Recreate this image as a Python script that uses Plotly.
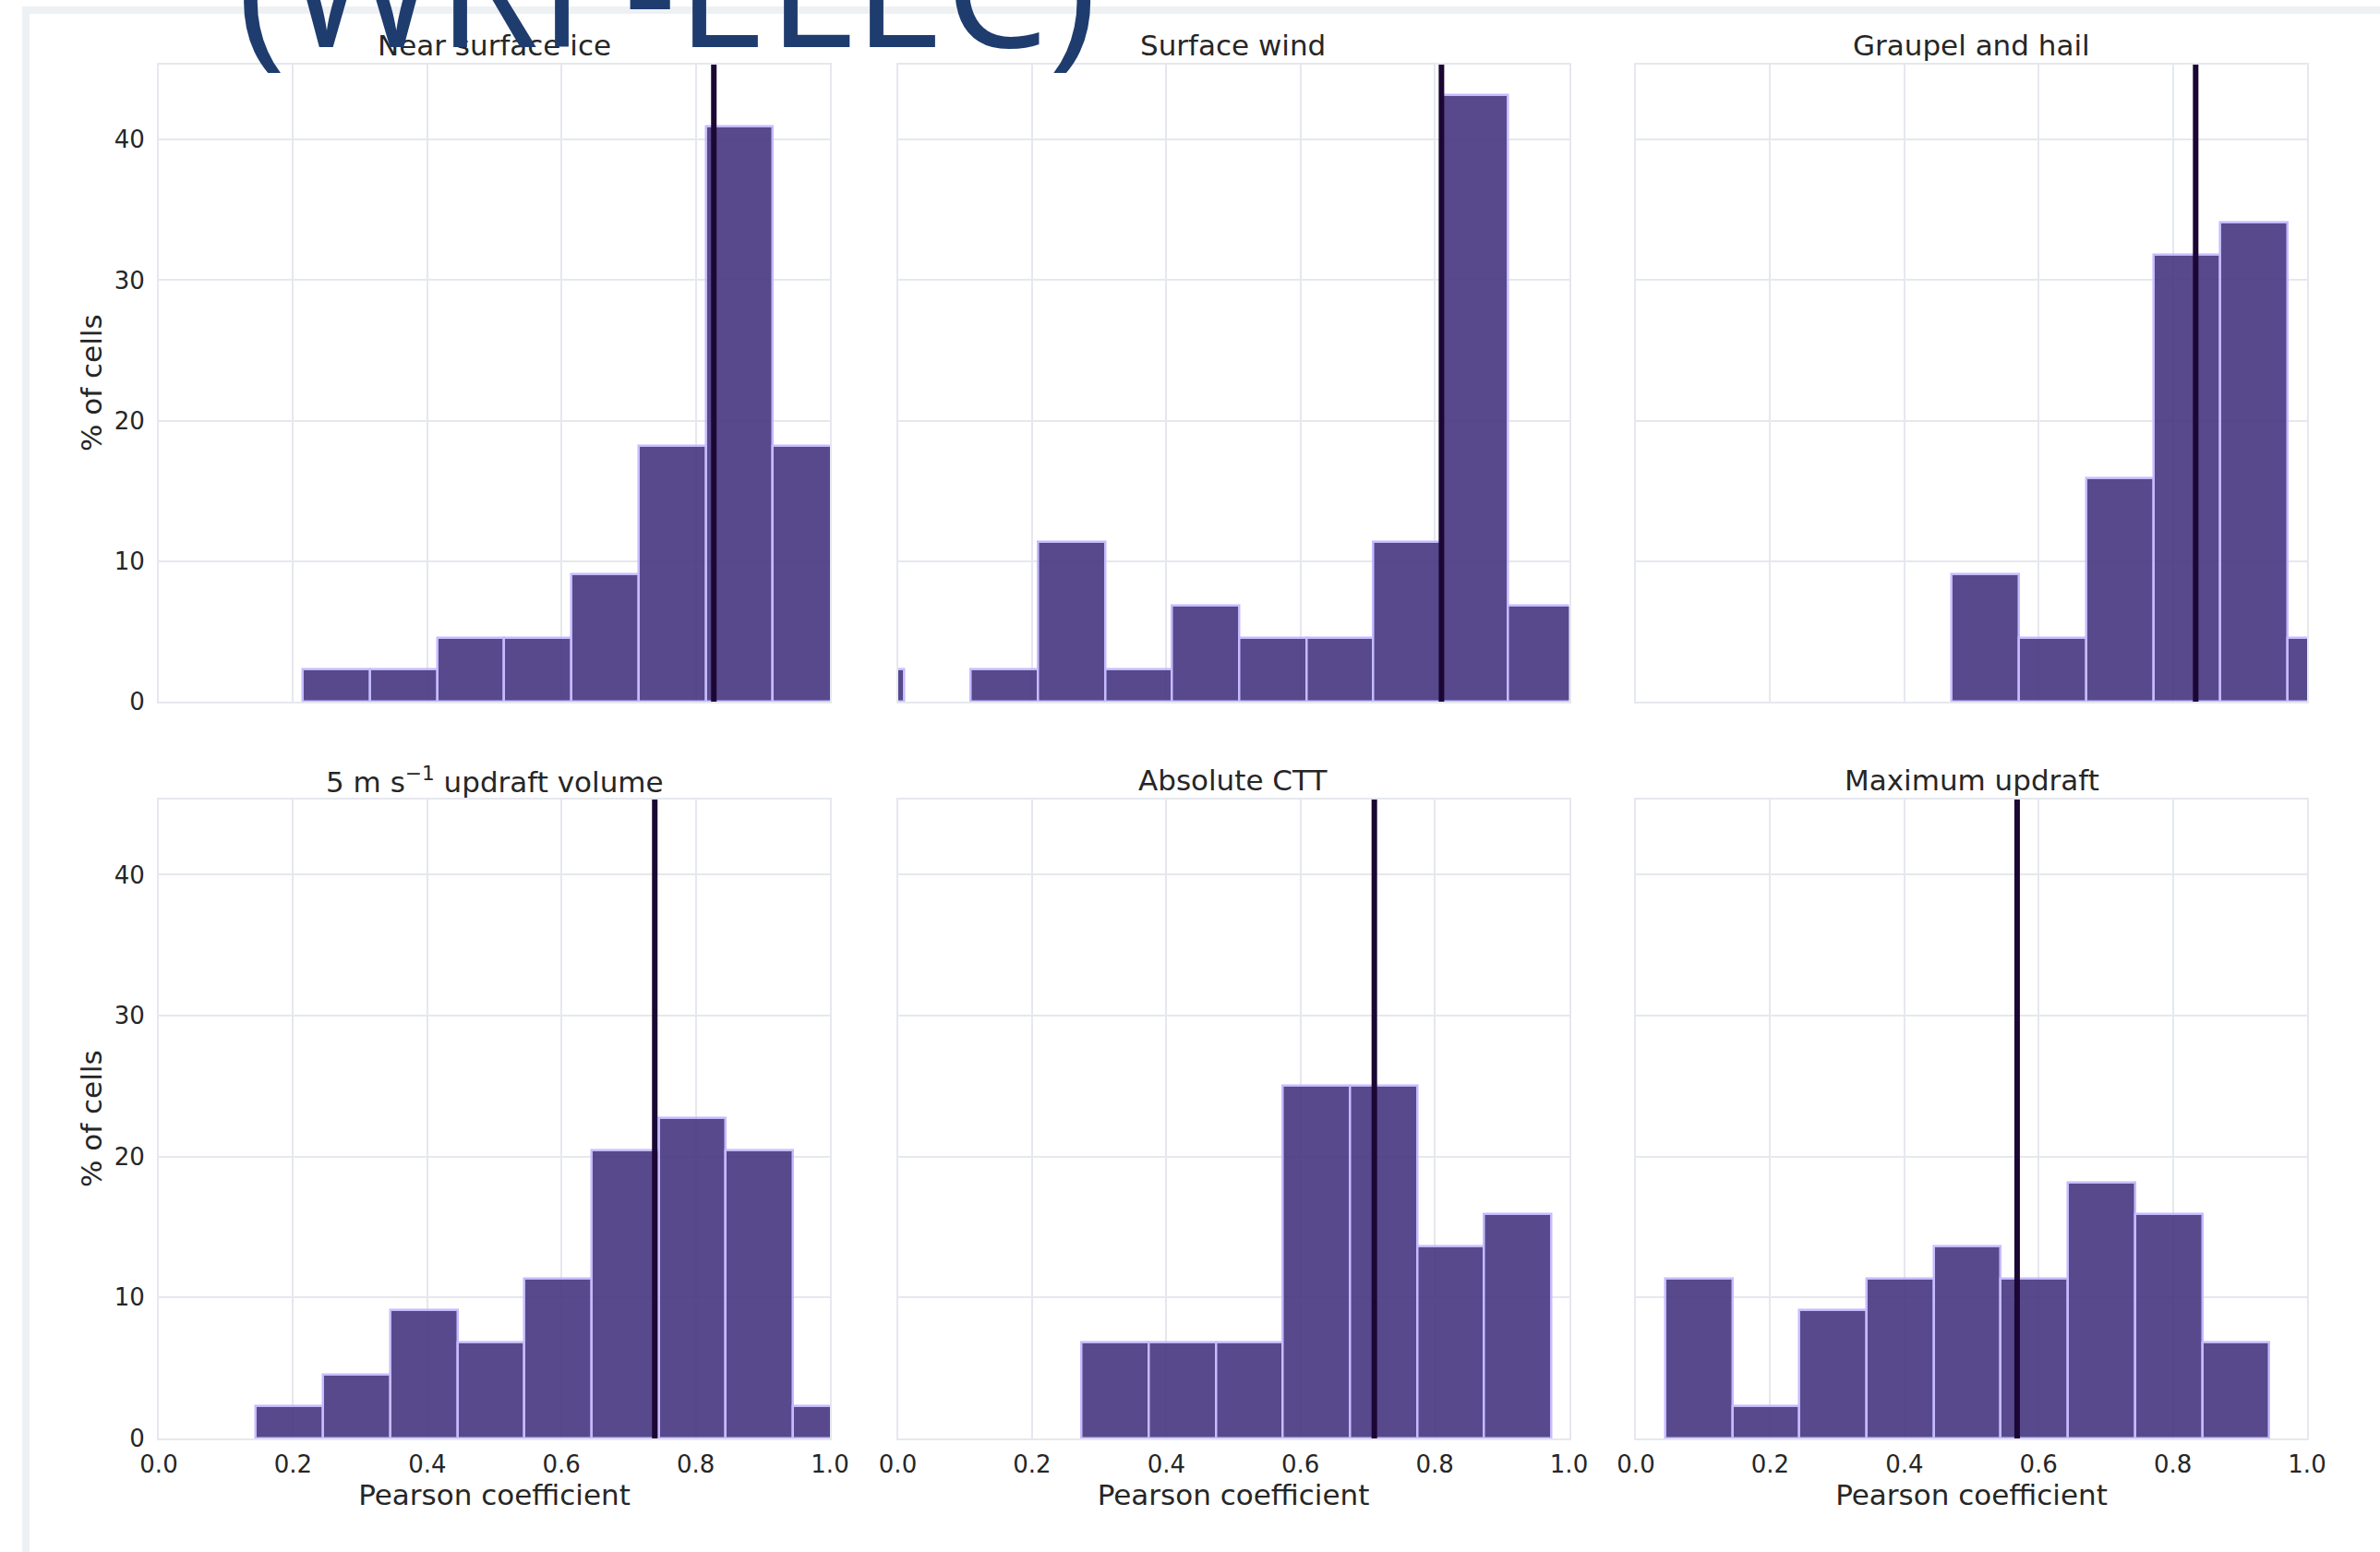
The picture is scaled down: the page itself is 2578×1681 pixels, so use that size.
import plotly.graph_objects as go

# Panel titles (row-major, 2 x 3 grid)
panel_titles = [
    "Near surface ice",
    "Surface wind",
    "Graupel and hail",
    "5 m s<sup>\u22121</sup> updraft volume",
    "Absolute CTT",
    "Maximum updraft",
]

# Histogram bins: left edge of each 0.1-wide bin and % of cells in it
ice_left = [0.215, 0.315, 0.415, 0.515, 0.615, 0.715, 0.815, 0.915]
ice_pct = [2.27, 2.27, 4.55, 4.55, 9.09, 18.18, 40.91, 18.18]

wind_left = [-0.091, 0.009, 0.109, 0.209, 0.309, 0.409, 0.509, 0.609, 0.709, 0.809, 0.909]
wind_pct = [2.27, 0.0, 2.27, 11.36, 2.27, 6.82, 4.55, 4.55, 11.36, 43.18, 6.82]

graupel_left = [0.471, 0.571, 0.671, 0.771, 0.871, 0.971]
graupel_pct = [9.09, 4.55, 15.91, 31.82, 34.09, 4.55]

updraft_vol_left = [0.145, 0.245, 0.345, 0.445, 0.545, 0.645, 0.745, 0.845, 0.945]
updraft_vol_pct = [2.27, 4.55, 9.09, 6.82, 11.36, 20.45, 22.73, 20.45, 2.27]

ctt_left = [0.274, 0.374, 0.474, 0.574, 0.674, 0.774, 0.874]
ctt_pct = [6.82, 6.82, 6.82, 25.0, 25.0, 13.64, 15.91]

max_updraft_left = [0.044, 0.144, 0.244, 0.344, 0.444, 0.544, 0.644, 0.744, 0.844]
max_updraft_pct = [11.36, 2.27, 9.09, 11.36, 13.64, 11.36, 18.18, 15.91, 6.82]

# Mean Pearson coefficient per panel (vertical marker)
mean_r = [0.827, 0.810, 0.834, 0.739, 0.710, 0.568]

x_ticks = [0.0, 0.2, 0.4, 0.6, 0.8, 1.0]
x_tick_text = ["0.0", "0.2", "0.4", "0.6", "0.8", "1.0"]
y_ticks = [0, 10, 20, 30, 40]

lefts = [ice_left, wind_left, graupel_left, updraft_vol_left, ctt_left, max_updraft_left]
pcts = [ice_pct, wind_pct, graupel_pct, updraft_vol_pct, ctt_pct, max_updraft_pct]

BIN_W = 0.1
W, H = 2578, 1681
FONT = "DejaVu Sans"
TXT = "#262626"
GRID = "#e5e8ee"
BAR = "rgb(70,54,128)"
EDGE = "rgb(192,180,255)"
MEANC = "#1b0733"

# Subplot placement in pixels
col_left = [172, 972.5, 1772]
col_w = 727
row_top = [70, 866]
row_h = [690, 692]

ymax = max(max(p) for p in pcts) * 1.05

fig = go.Figure()
layout = dict(
    width=W, height=H,
    margin=dict(l=0, r=0, t=0, b=0, autoexpand=False),
    paper_bgcolor="white", plot_bgcolor="white",
    showlegend=False,
    font=dict(family=FONT, color=TXT, size=26),
    bargap=0,
)
annotations = []
shapes = []

for i in range(6):
    r, c = divmod(i, 3)
    n = i + 1
    xs = "" if n == 1 else str(n)
    x0 = col_left[c] / W
    x1 = (col_left[c] + col_w) / W
    y1 = 1 - row_top[r] / H
    y0 = 1 - (row_top[r] + row_h[r]) / H

    # empty bins draw nothing
    bx = [v + BIN_W / 2 for v, p in zip(lefts[i], pcts[i]) if p > 0]
    by = [p for p in pcts[i] if p > 0]
    fig.add_trace(go.Bar(
        x=bx, y=by,
        width=BIN_W,
        marker=dict(color=BAR, line=dict(color=EDGE, width=2.5)),
        opacity=0.9,
        xaxis="x" + xs, yaxis="y" + xs,
        hoverinfo="x+y",
    ))

    xa = dict(
        domain=[x0, x1], anchor="y" + xs, range=[0, 1],
        tickvals=x_ticks, ticktext=x_tick_text,
        showgrid=True, gridcolor=GRID, gridwidth=2,
        showline=True, linecolor=GRID, linewidth=2, mirror=True,
        zeroline=False, ticks="", automargin=False,
        showticklabels=(r == 1),
        ticklabelstandoff=4,
        tickfont=dict(size=26, color=TXT),
    )
    if r == 1:
        xa["title"] = dict(text="Pearson coefficient", font=dict(size=31, color=TXT), standoff=6)
    ya = dict(
        domain=[y0, y1], anchor="x" + xs, range=[0, ymax],
        tickvals=y_ticks,
        showgrid=True, gridcolor=GRID, gridwidth=2,
        showline=True, linecolor=GRID, linewidth=2, mirror=True,
        zeroline=False, ticks="", automargin=False,
        showticklabels=(c == 0),
        ticklabelstandoff=8,
        tickfont=dict(size=26, color=TXT),
    )
    layout["xaxis" + xs] = xa
    layout["yaxis" + xs] = ya

    if c == 0:
        # y-axis title for the left column
        annotations.append(dict(
            text="% of cells", x=99 / W, y=(y0 + y1) / 2, xref="paper", yref="paper",
            xanchor="center", yanchor="middle", textangle=-90, showarrow=False,
            font=dict(family=FONT, size=31, color=TXT),
        ))

    annotations.append(dict(
        text=panel_titles[i], x=(x0 + x1) / 2, y=y1, xref="paper", yref="paper",
        xanchor="center", yanchor="middle", yshift=21, showarrow=False,
        font=dict(family=FONT, size=31, color=TXT),
    ))
    shapes.append(dict(
        type="line", xref="x" + xs, yref="y" + xs + " domain",
        x0=mean_r[i], x1=mean_r[i], y0=0, y1=1,
        line=dict(color=MEANC, width=6), layer="above",
    ))

# Outer frame around the figure panel
shapes.append(dict(
    type="rect", xref="paper", yref="paper",
    x0=28 / W, x1=1.05, y0=-0.05, y1=1 - 11 / H,
    line=dict(color="#eef1f3", width=8), fillcolor="rgba(0,0,0,0)", layer="below",
))

# Large heading, partly running off the top edge
annotations.append(dict(
    text="(WRF-ELEC)", x=722 / W, y=1 + 18 / H, xref="paper", yref="paper",
    xanchor="center", yanchor="middle", showarrow=False,
    font=dict(family="Open Sans", size=178, color="#1f3c6e"),
))

layout["annotations"] = annotations
layout["shapes"] = shapes
fig.update_layout(**layout)

fig.write_html("out.html")
